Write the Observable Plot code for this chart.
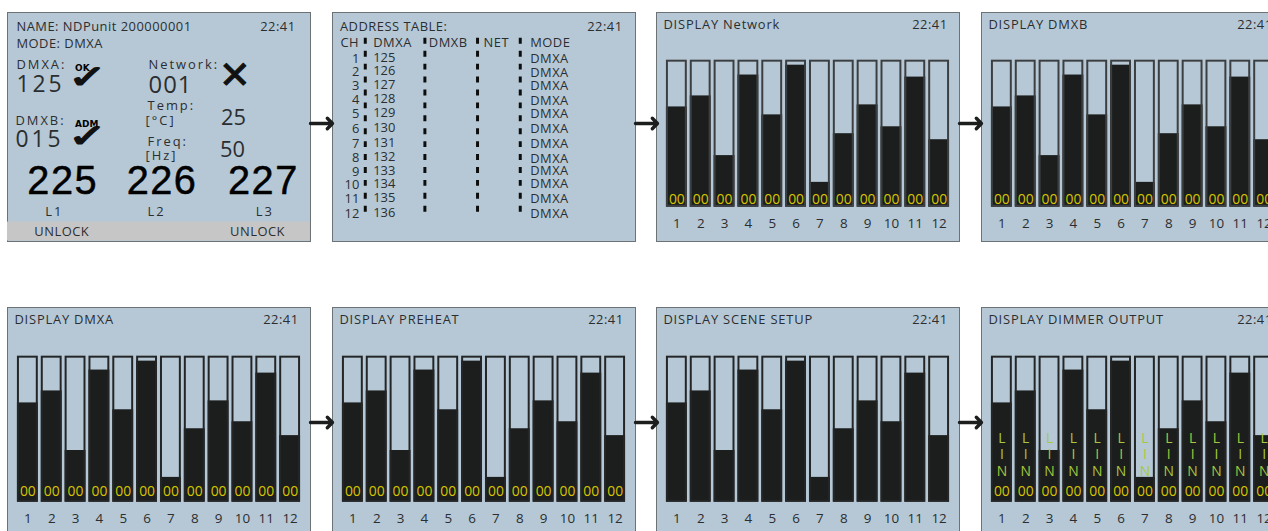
<!DOCTYPE html>
<html><head><meta charset="utf-8">
<script src="https://cdn.jsdelivr.net/npm/d3@7"></script>
<script src="https://cdn.jsdelivr.net/npm/@observablehq/plot@0.6"></script>
<style>
html,body{margin:0;background:#fff;overflow:hidden}
#root{position:relative;width:1268px;height:531px;overflow:hidden}
.panel{position:absolute;box-sizing:border-box;width:304px;height:230px;border:1px solid #6d7275;background:#b6c8d5}
.panel svg{position:absolute;left:-1px;top:-1px;overflow:visible}
.arrow{position:absolute}
.ls0 text{letter-spacing:0}.ls1 text{letter-spacing:.5px}.ls2 text{letter-spacing:1px}.ls3 text{letter-spacing:2px}.ls4 text{letter-spacing:3px}.ls5 text{letter-spacing:.8px}.ls6 text{letter-spacing:1.5px}
.chk{transform-box:fill-box;transform-origin:center;transform:scale(1.3,.9)}
</style></head><body><div id="root"></div>
<script>
// ---- data ----
const channels = [1,2,3,4,5,6,7,8,9,10,11,12];
const levelsTopRow = [68.2,75.7,35.1,89.9,62.8,96.6,16.9,50,69.6,54.7,88.5,45.9];
const levelsBottomRow = [68,76.2,35.4,90.5,63.3,96.6,17,50.3,69.4,55.1,88.4,45.6];
const clock = "22:41";
const dmxaAddresses = [125,126,127,128,129,130,131,132,133,134,135,136];
const modes = channels.map(() => "DMXA");
const tableHeaders = ["CH","DMXA","DMXB","NET","MODE"];
const chartTitles = ["DISPLAY Network","DISPLAY DMXB","DISPLAY DMXA","DISPLAY PREHEAT","DISPLAY SCENE SETUP","DISPLAY DIMMER OUTPUT"];
const linLetters = ["L","I","N"];
const mainsVoltages = [225,226,227];
const phases = ["L1","L2","L3"];

// ---- layout ----
const W = 304, H = 230;
const INK = "#2b2e30", BAR = "#1c1e1d", BG = "#b6c8d5", YEL = "#d8c500", GRN = "#a6c83c";
const FR1 = "#3c3f41", FR2 = "#232526";
const colX = [7,332,656,981], rowY = [12,307];
const root = document.getElementById("root");
const FONT = "Open Sans";

const T = (t,x,y,o={}) => Plot.text([t],{text:d=>d,x:()=>x,y:()=>y,fill:INK,fontSize:13,textAnchor:"start",...o});
const cls = (n,o={}) => ({...o,className:"ls"+n});
function base(marks){
  return Plot.plot({width:W,height:H,margin:0,x:{type:"identity",axis:null},y:{type:"identity",axis:null},
    style:{background:"transparent",fontFamily:FONT},marks});
}
function mount(node,x,y){
  const d=document.createElement("div");d.className="panel";d.style.left=x+"px";d.style.top=y+"px";d.appendChild(node);root.appendChild(d);
}

// status panel
const voltX=[20,120,222], phaseX=[38,141,250];
const CHECK={fontSize:36,fontFamily:"DejaVu Sans",fill:"#111",stroke:"#111",strokeWidth:1.6,textAnchor:"middle",className:"chk"};
const TAG={fontSize:9,fontFamily:"DejaVu Sans",fontWeight:"bold",fill:"#000"};
const statusMarks=[
  Plot.rect([0],{x1:()=>0,x2:()=>W,y1:()=>211,y2:()=>H,fill:"#c6c6c6"}),
  T("NAME: NDPunit 200000001",9,14.5,cls(1)),
  T(clock,290,14.5,cls(1,{textAnchor:"end"})),
  T("MODE: DMXA",9,32,cls(1)),
  T("DMXA:",9,53,cls(3)),
  T("125",9,73,cls(4,{fontSize:23})),
  T("✓",81,66,CHECK),
  T("OK",68,56.5,TAG),
  T("Network:",142,53,cls(3)),
  T("001",142,73,cls(2,{fontSize:24})),
  T("✕",213,64,{fontSize:38,fontFamily:"DejaVu Sans",fill:"#111",stroke:"#111",strokeWidth:1}),
  T("Temp:",141,94,cls(3)),
  T("[°C]",139,109,cls(3)),
  T("25",215,106,{fontSize:22}),
  T("Freq:",141,130,cls(3)),
  T("[Hz]",139,144,cls(3)),
  T("50",214,138,{fontSize:22}),
  T("DMXB:",8,109,cls(3)),
  T("015",8,128,cls(4,{fontSize:23})),
  T("✓",81,126,CHECK),
  T("ADM",68,112,TAG),
  ...mainsVoltages.map((v,i)=>T(String(v),voltX[i],170,cls(6,{fontSize:40,fontFamily:"Liberation Sans",fill:"#000",stroke:"#000",strokeWidth:0.5}))),
  ...phases.map((p,i)=>T(p,phaseX[i],201,cls(3))),
  T("UNLOCK",27,221,cls(1)),
  T("UNLOCK",224,221,cls(1))
];
mount(base(statusMarks),colX[0],rowY[0]);

// address table panel
const rowYs=[47,60,74,88,102,117,132,146,160,174,188,203];
const modeYs=[47,61,74,89,102,117,132,147,159,173,188,203];
const ruleXs=[33,93,146,189];
const headerXs=[8,41,97,152,199];
const tableMarks=[
  Plot.ruleX(ruleXs,{x:d=>d,y1:()=>26,y2:()=>204,stroke:"#0d0d0d",strokeWidth:3,strokeDasharray:"6 7"}),
  T("ADDRESS TABLE:",7.5,14.5,cls(1)),
  T(clock,292,14.5,cls(1,{textAnchor:"end"})),
  ...tableHeaders.map((h,i)=>T(h,headerXs[i],31,cls(1))),
  ...channels.map((c,i)=>T(String(c),27,rowYs[i],cls(0,{textAnchor:"end"}))),
  ...dmxaAddresses.map((a,i)=>T(String(a),41,rowYs[i]-1,cls(0))),
  ...modes.map((m,i)=>T(m,199,modeYs[i],cls(1)))
];
mount(base(tableMarks),colX[1],rowY[0]);

// bar panels
function barPanel(title,levels,{top,frame,bar,zeros=true,lin=false,zeroDy}){
  const rows=channels.map((c,i)=>({c,v:levels[i]}));
  const L=10,R=W-295,B=H-(top+bar);
  const marks=[
    Plot.barY(rows,{x:"c",y1:()=>0,y2:()=>100,fill:BG}),
    Plot.barY(rows,{x:"c",y1:()=>0,y2:"v",fill:BAR}),
    Plot.barY(rows,{x:"c",y1:()=>0,y2:()=>100,fill:"none",stroke:frame,strokeWidth:2,inset:1}),
    Plot.axisX({anchor:"bottom",tickSize:0,tickPadding:11,fontSize:13.5,fill:INK,label:null}),
    Plot.text([title],{frameAnchor:"top-left",dx:7-L,dy:7.5-top,text:d=>d,fill:INK,fontSize:13,lineAnchor:"top",className:"ls5"}),
    Plot.text([clock],{frameAnchor:"top-right",dx:R-11,dy:7.5-top,text:d=>d,fill:INK,fontSize:13,lineAnchor:"top",className:"ls1"}),
  ];
  if(zeros) marks.push(Plot.text(rows,{x:"c",y:()=>0,dy:zeroDy,text:()=>"00",fill:YEL,fontSize:14}));
  if(lin) linLetters.forEach((ch,k)=>marks.push(Plot.text(rows,{x:"c",y:()=>0,dy:-64+k*16.5,text:()=>ch,fill:GRN,fontSize:14})));
  return Plot.plot({width:W,height:H,marginTop:top,marginBottom:B,marginLeft:L,marginRight:R,
    x:{type:"band",domain:channels,paddingInner:0.125,paddingOuter:0,round:false,label:null},
    y:{domain:[0,100],axis:null},
    style:{background:"transparent",fontFamily:FONT},marks});
}
mount(barPanel(chartTitles[0],levelsTopRow,{top:48,bar:148,frame:FR1,zeroDy:-7.5}),colX[2],rowY[0]);
mount(barPanel(chartTitles[1],levelsTopRow,{top:48,bar:148,frame:FR1,zeroDy:-7.5}),colX[3],rowY[0]);
mount(barPanel(chartTitles[2],levelsBottomRow,{top:49,bar:147,frame:FR2,zeroDy:-11}),colX[0],rowY[1]);
mount(barPanel(chartTitles[3],levelsBottomRow,{top:49,bar:147,frame:FR2,zeroDy:-11}),colX[1],rowY[1]);
mount(barPanel(chartTitles[4],levelsBottomRow,{top:49,bar:147,frame:FR2,zeros:false}),colX[2],rowY[1]);
mount(barPanel(chartTitles[5],levelsBottomRow,{top:49,bar:147,frame:FR2,lin:true,zeroDy:-11}),colX[3],rowY[1]);

// arrows between panels
const arrowX=[310,635,959], arrowY=[123,422];
arrowY.forEach(ay=>arrowX.forEach(ax=>{
  const a=Plot.plot({width:24,height:20,margin:0,x:{domain:[0,1],range:[0,22],axis:null},y:{domain:[0,1],range:[10,10],axis:null},
    style:{background:"transparent",overflow:"visible"},
    marks:[Plot.arrow([0],{x1:()=>0,x2:()=>1,y1:()=>0,y2:()=>0,stroke:BAR,strokeWidth:3.4,headAngle:90,headLength:8})]});
  a.classList.add("arrow");a.style.left=ax+"px";a.style.top=(ay-10)+"px";root.appendChild(a);
}));
</script></body></html>
